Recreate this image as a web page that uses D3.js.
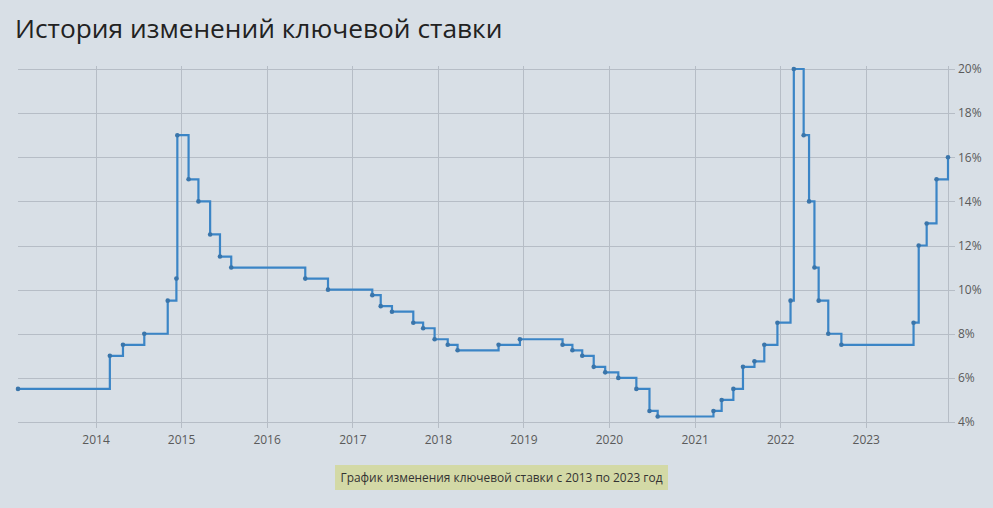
<!DOCTYPE html>
<html><head><meta charset="utf-8">
<script src="https://cdn.jsdelivr.net/npm/d3@7"></script>
<style>
html,body{margin:0;padding:0;background:#d8dfe6;}
svg{display:block;}
</style></head>
<body>
<svg id="c" width="993" height="508"></svg>
<script>
const dates = ["2013-02-04","2014-03-03","2014-04-28","2014-07-28","2014-11-05","2014-12-12","2014-12-16","2015-02-02","2015-03-16","2015-05-05","2015-06-16","2015-08-03","2016-06-14","2016-09-19","2017-03-27","2017-05-02","2017-06-19","2017-09-18","2017-10-30","2017-12-18","2018-02-12","2018-03-26","2018-09-17","2018-12-17","2019-06-17","2019-07-29","2019-09-09","2019-10-28","2019-12-16","2020-02-10","2020-04-27","2020-06-22","2020-07-27","2021-03-22","2021-04-26","2021-06-15","2021-07-26","2021-09-13","2021-10-25","2021-12-20","2022-02-14","2022-02-28","2022-04-11","2022-05-04","2022-05-27","2022-06-14","2022-07-25","2022-09-19","2023-07-24","2023-08-15","2023-09-18","2023-10-30","2023-12-18"];
const rates = [5.5,7,7.5,8,9.5,10.5,17,15,14,12.5,11.5,11,10.5,10,9.75,9.25,9,8.5,8.25,7.75,7.5,7.25,7.5,7.75,7.5,7.25,7,6.5,6.25,6,5.5,4.5,4.25,4.5,5,5.5,6.5,6.75,7.5,8.5,9.5,20,17,14,11,9.5,8,7.5,8.5,12,13,15,16];
const yTicks = [4,6,8,10,12,14,16,18,20];
const xTickYears = [2014,2015,2016,2017,2018,2019,2020,2021,2022,2023];
const title = "История изменений ключевой ставки";
const caption = "График изменения ключевой ставки с 2013 по 2023 год";

const parse = d3.timeParse("%Y-%m-%d");
const data = dates.map((d,i)=>({date:parse(d), rate:rates[i]}));

const svg = d3.select("#c");
const L=18, R=948, T=69, B=422;
const x = d3.scaleTime().domain(d3.extent(data,d=>d.date)).range([L,R]);
const y = d3.scaleLinear().domain([4,20]).range([B,T]);

svg.append("text").attr("x",15).attr("y",38)
  .attr("font-family","'Open Sans','Noto Sans',sans-serif").attr("font-size",26.3)
  .attr("fill","#222").text(title);

const grid = svg.append("g");
grid.selectAll("line.h").data(yTicks).join("line")
  .attr("x1",L).attr("x2",955).attr("y1",d=>Math.round(y(d))+0.5).attr("y2",d=>Math.round(y(d))+0.5)
  .attr("stroke","#b6bdc6").attr("stroke-width",1);
const xt = xTickYears.map(yr=>new Date(yr,0,1));
grid.selectAll("line.v").data(xt).join("line")
  .attr("x1",d=>Math.round(x(d))+0.5).attr("x2",d=>Math.round(x(d))+0.5).attr("y1",66).attr("y2",428)
  .attr("stroke","#b6bdc6").attr("stroke-width",1);
grid.append("line").attr("x1",R+0.5).attr("x2",R+0.5).attr("y1",66).attr("y2",B)
  .attr("stroke","#b6bdc6");

const xAxis = d3.axisBottom(x).tickValues(xt).tickFormat(d3.timeFormat("%Y")).tickSize(0).tickPadding(13);
const gx = svg.append("g").attr("transform",`translate(0,${B})`).call(xAxis);
gx.select(".domain").remove();
gx.selectAll("text").attr("font-family","'Open Sans','Noto Sans',sans-serif").attr("font-size",12).attr("fill","#5a5a5a");

const yAxis = d3.axisRight(y).tickValues(yTicks).tickFormat(d=>d+"%").tickSize(0).tickPadding(10);
const gy = svg.append("g").attr("transform",`translate(${R},0)`).call(yAxis);
gy.select(".domain").remove();
gy.selectAll("text").attr("font-family","'Open Sans','Noto Sans',sans-serif").attr("font-size",12).attr("fill","#5a5a5a");

const line = d3.line().x(d=>x(d.date)).y(d=>y(d.rate)).curve(d3.curveStepAfter);
svg.append("path").datum(data).attr("d",line).attr("fill","none")
  .attr("stroke","#3b85c6").attr("stroke-width",2.2);
svg.append("g").selectAll("circle").data(data).join("circle")
  .attr("cx",d=>x(d.date)).attr("cy",d=>y(d.rate)).attr("r",2.3).attr("fill","#3a75aa");

const cap = svg.append("g");
cap.append("rect").attr("x",335).attr("y",465).attr("width",333).attr("height",25).attr("fill","#d3d9a6");
cap.append("text").attr("x",501.5).attr("y",482).attr("text-anchor","middle")
  .attr("font-family","'Open Sans','Noto Sans',sans-serif").attr("font-size",11.9).attr("fill","#333").text(caption);
</script>
</body></html>
